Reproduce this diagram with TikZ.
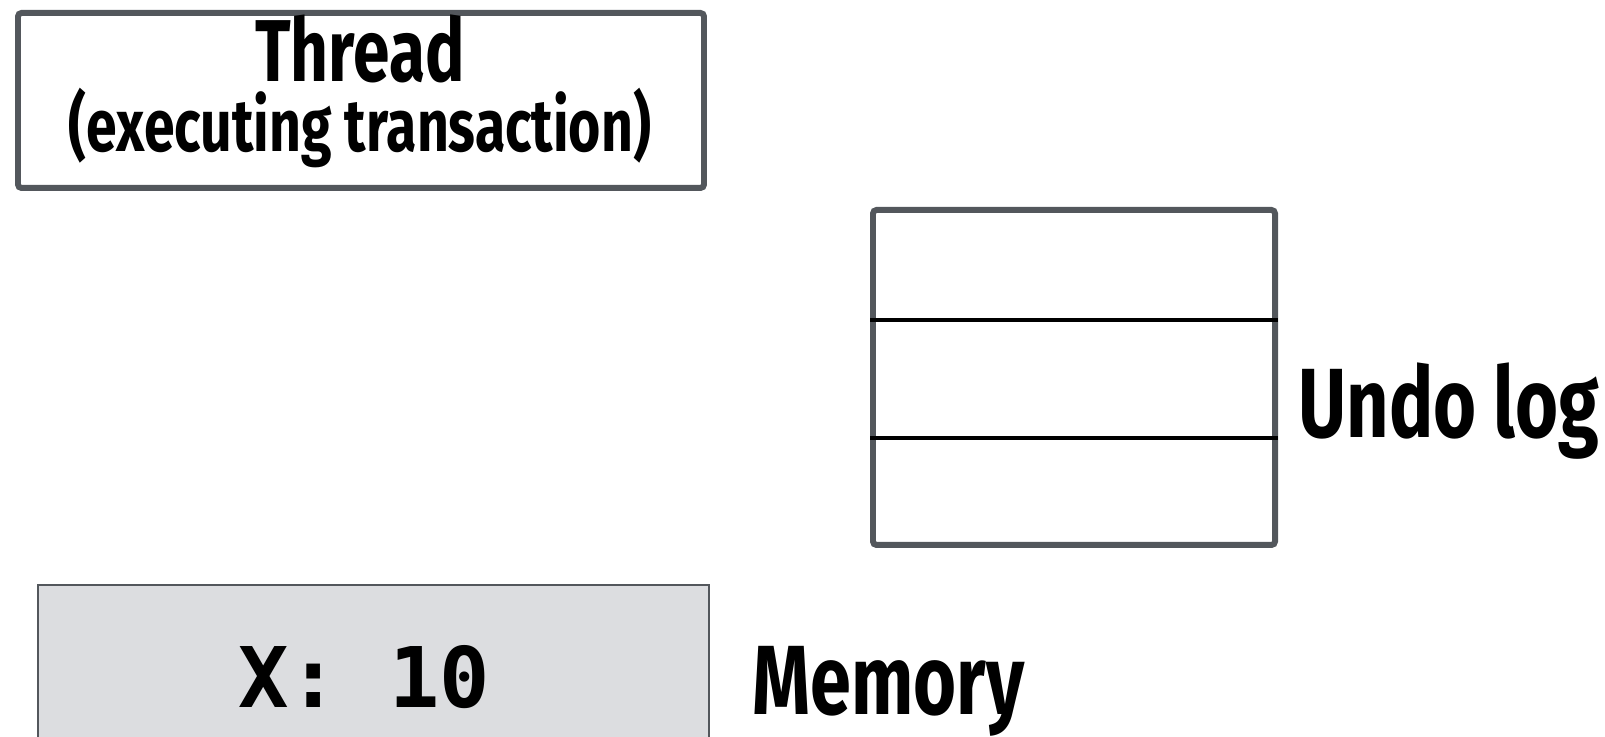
\documentclass[tikz,border=0pt]{standalone}
\usepackage{fontspec}
\newfontfamily\labelfont{Fira Sans}[FakeStretch=0.75]
\newfontfamily\codefont{DejaVu Sans Mono}
\usetikzlibrary{positioning,calc}
\definecolor{boxgray}{HTML}{53575C}
\definecolor{memfill}{HTML}{DCDDE0}
\tikzset{
	box/.style={draw=boxgray,line width=1.7pt,rounded corners=1pt,fill=white},
	big/.style={font=\labelfont\bfseries\fontsize{28}{32}\selectfont},
	title/.style={font=\labelfont\bfseries\fontsize{25}{28}\selectfont,anchor=base,inner sep=0pt},
	sub/.style={font=\labelfont\bfseries\fontsize{21}{24}\selectfont,anchor=base,inner sep=0pt},
}

\begin{document}
\begin{tikzpicture}
	\def\largeur{16.05}
	\def\hauteur{7.37}
\useasboundingbox (0,0) rectangle (\largeur,\hauteur);
\clip (0,0) rectangle (\largeur,\hauteur); % memory box runs past the bottom

%Thread
\node[box,minimum width=6.86cm,minimum height=1.75cm] (thread) at (3.61,6.365) {};
\node[title] (tname) at (3.60,6.55) {Thread};
\node[sub] (tsub) at (3.60,5.85) {(executing transaction)};

%Undo log
\node[box,minimum width=4.02cm,minimum height=3.35cm] (undo) at (10.74,3.595) {};
\foreach \f in {0.322,0.669} {
	\draw[line width=1pt] ($(undo.south west)!\f!(undo.north west)$) -- ($(undo.south east)!\f!(undo.north east)$);
}
\node[big,anchor=base west] (undolbl) at (12.86,2.99) {Undo log};

%Memory
\node[draw=boxgray,fill=memfill,line width=0.6pt,minimum width=6.71cm,minimum height=2.5cm,anchor=north west] (mem) at (0.37,1.53) {};
\node[font=\codefont\bfseries\fontsize{23.8}{26}\selectfont,anchor=base] (xval) at (3.64,0.29) {X: 10};
\node[big,anchor=base west,inner ysep=0pt] (memlbl) at (7.40,0.22) {Memory};

\end{tikzpicture}
\end{document}
